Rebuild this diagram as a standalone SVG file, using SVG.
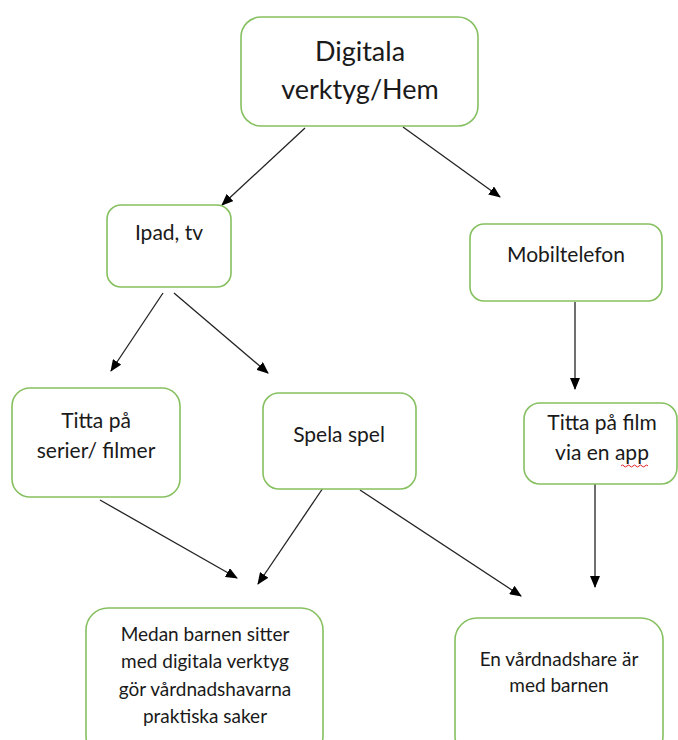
<svg xmlns="http://www.w3.org/2000/svg" width="678" height="740" viewBox="0 0 678 740">
<style>
.box{fill:#fff;stroke:#86c060;stroke-width:1.6}
.t{font-family:Lato,"Open Sans","Liberation Sans",sans-serif;fill:#1a1a1a;text-anchor:middle}
.m{font-size:21px}
.s{font-size:19px}
.c{stroke:#222;stroke-width:1.3;fill:none;marker-end:url(#ah)}
</style>
<defs>
<marker id="ah" viewBox="0 0 12 10" refX="11" refY="5" markerWidth="12" markerHeight="10" markerUnits="userSpaceOnUse" orient="auto">
<path d="M0,0 L12,5 L0,10 z" fill="#000"/>
</marker>
</defs>
<rect width="678" height="740" fill="#fff"/>
<g id="connectors">
<line class="c" x1="305" y1="128" x2="222" y2="205"/>
<line class="c" x1="403" y1="127" x2="500" y2="197"/>
<line class="c" x1="163" y1="293" x2="111" y2="371"/>
<line class="c" x1="174" y1="293" x2="268" y2="373"/>
<line class="c" x1="575" y1="302" x2="575" y2="389"/>
<line class="c" x1="100" y1="500" x2="237" y2="578"/>
<line class="c" x1="323" y1="488" x2="258" y2="584"/>
<line class="c" x1="360" y1="490" x2="521" y2="596"/>
<line class="c" x1="595" y1="483" x2="595" y2="587"/>
</g>
<g id="n-top">
<rect class="box" x="241" y="17" width="237" height="109" rx="20"/>
<text class="t" x="360" y="61" font-size="27">Digitala</text>
<text class="t" x="360" y="99" font-size="27">verktyg/Hem</text>
</g>
<g id="n-ipad">
<rect class="box" x="107" y="205" width="124" height="82" rx="14"/>
<text class="t m" x="169" y="240">Ipad, tv</text>
</g>
<g id="n-mobil">
<rect class="box" x="470" y="224" width="192" height="77" rx="14"/>
<text class="t m" x="566" y="262">Mobiltelefon</text>
</g>
<g id="n-serier">
<rect class="box" x="12" y="388" width="168" height="109" rx="18"/>
<text class="t m" x="96" y="428">Titta på</text>
<text class="t m" x="96" y="458">serier/ filmer</text>
</g>
<g id="n-spela">
<rect class="box" x="263" y="393" width="153" height="96" rx="16"/>
<text class="t m" x="339" y="442">Spela spel</text>
</g>
<g id="n-film">
<rect class="box" x="524" y="403" width="153" height="81" rx="16"/>
<text class="t m" x="602" y="430">Titta på film</text>
<text class="t m" x="602" y="460">via en app</text>
<path d="M621,466 q1.5,-2 3,0 t3,0 t3,0 t3,0 t3,0 t3,0 t3,0 t3,0 t3,0" stroke="#e02020" stroke-width="1" fill="none"/>
</g>
<g id="n-medan">
<rect class="box" x="86" y="608" width="237" height="150" rx="22"/>
<text class="t s" x="205" y="641">Medan barnen sitter</text>
<text class="t s" x="205" y="668">med digitala verktyg</text>
<text class="t s" x="205" y="696">gör vårdnadshavarna</text>
<text class="t s" x="205" y="723">praktiska saker</text>
</g>
<g id="n-en">
<rect class="box" x="455" y="618" width="208" height="140" rx="22"/>
<text class="t s" x="559" y="666">En vårdnadshare är</text>
<text class="t s" x="559" y="692">med barnen</text>
</g>
</svg>
